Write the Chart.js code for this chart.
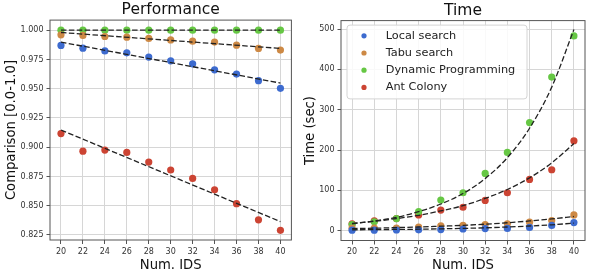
<!DOCTYPE html>
<html>
<head>
<meta charset="utf-8">
<script src="https://cdn.jsdelivr.net/npm/chart.js@4.4.1/dist/chart.umd.min.js"></script>
<style>
  html, body { margin: 0; padding: 0; background: #fff; }
  #wrap { position: relative; width: 589px; height: 273px; }
  canvas { position: absolute; top: 0; }
  #perfChart { left: 0; }
  #timeChart { left: 295px; }
</style>
</head>
<body>
<div id="wrap">
  <canvas id="perfChart" width="295" height="273"></canvas>
  <canvas id="timeChart" width="294" height="273"></canvas>
</div>
<script>
// x values (number of IDS)
const ids = [20, 22, 24, 26, 28, 30, 32, 34, 36, 38, 40];
const names = ['Local search', 'Tabu search', 'Dynamic Programming', 'Ant Colony'];
const colors = ['#3d6bcf', '#cd8945', '#66c744', '#cc4433'];

// Performance (comparison score)
const perfLocal = [0.987, 0.9846, 0.9823, 0.9806, 0.977, 0.9738, 0.9712, 0.9661, 0.9625, 0.9568, 0.9503];
const perfTabu = [0.996, 0.9955, 0.9946, 0.994, 0.9929, 0.9917, 0.9906, 0.9898, 0.9872, 0.9844, 0.983];
const perfDP = [1.0, 1.0, 1.0, 1.0, 1.0, 1.0, 1.0, 1.0, 1.0, 1.0, 1.0];
const perfAnt = [0.9116, 0.8966, 0.8975, 0.8955, 0.8873, 0.8805, 0.8733, 0.8636, 0.8517, 0.8379, 0.829];

// linear trend lines (values at x = 20 and x = 40)
const fitEnds = [20, 40];
const perfLocalFit = [0.9898, 0.9548];
const perfTabuFit = [0.998, 0.9844];
const perfDPFit = [1.0, 1.0];
const perfAntFit = [0.9147, 0.8364];

// Time in seconds
const timeLocal = [1, 1, 1.5, 2, 2.5, 4, 5, 5.5, 8, 13, 20];
const timeTabu = [6, 6, 6.5, 9, 12, 13, 15, 17, 21, 25, 39];
const timeDP = [15, 22, 30, 47, 76, 94, 142, 194, 268, 381, 483];
const timeAnt = [17, 24, 30, 39, 51, 58, 75, 94, 127, 151, 223];

// exponential trend curves read at each x
const timeLocalFit = [2, 2.5, 3, 3.5, 4.5, 5.5, 7, 9, 11.5, 14.5, 18.5];
const timeTabuFit = [5, 6, 7.5, 9, 11, 13, 16, 19.5, 24, 29, 35];
const timeDPFit = [17, 24, 33, 47, 66, 92, 129, 181, 254, 356, 499];
const timeAntFit = [18, 23, 30, 38, 49, 62, 80, 102, 131, 168, 216];

// tick labels
const idTicks = [20, 22, 24, 26, 28, 30, 32, 34, 36, 38, 40];
const perfTicks = [0.825, 0.85, 0.875, 0.9, 0.925, 0.95, 0.975, 1.0];
const timeTicks = [0, 100, 200, 300, 400, 500];

const FONT = 'DejaVu Sans';

function pts(xs, ys) {
  return xs.map((x, i) => ({ x: x, y: ys[i] }));
}

function dotSet(i, ys) {
  return {
    type: 'scatter', label: names[i], data: pts(ids, ys),
    backgroundColor: colors[i], borderWidth: 0, pointRadius: 3.6, pointHoverRadius: 3.6
  };
}

function fitSet(xs, ys) {
  return {
    type: 'line', label: '', isFit: true, data: pts(xs, ys),
    borderColor: '#222', borderWidth: 1.3, borderDash: [5.5, 2.4],
    pointRadius: 0, fill: false, cubicInterpolationMode: 'monotone'
  };
}

// black frame around the plot area
const frame = {
  id: 'frame',
  afterDatasetsDraw(chart) {
    const ctx = chart.ctx, a = chart.chartArea;
    ctx.save();
    ctx.strokeStyle = '#555';
    ctx.lineWidth = 1;
    ctx.strokeRect(a.left, a.top, a.right - a.left, a.bottom - a.top);
    ctx.restore();
  }
};

// matplotlib-like legend inside the plot
const legendBox = {
  id: 'legendBox',
  afterDatasetsDraw(chart, args, opts) {
    if (!opts.show) return;
    const ctx = chart.ctx, a = chart.chartArea;
    const items = chart.data.datasets.filter(d => !d.isFit);
    const rowH = 17.2;
    const x = a.left + 6, y = a.top + 4.5, w = 180, h = items.length * rowH + 5;
    ctx.save();
    ctx.fillStyle = 'rgba(255,255,255,0.85)';
    ctx.strokeStyle = '#d4d4d4';
    ctx.lineWidth = 1;
    ctx.beginPath();
    ctx.roundRect(x, y, w, h, 3);
    ctx.fill();
    ctx.stroke();
    ctx.font = '11.3px "' + FONT + '"';
    ctx.textBaseline = 'middle';
    items.forEach((d, i) => {
      const cy = y + 10.7 + i * rowH;
      ctx.fillStyle = d.backgroundColor;
      ctx.beginPath();
      ctx.arc(x + 17, cy, 2.6, 0, Math.PI * 2);
      ctx.fill();
      ctx.fillStyle = '#222';
      ctx.fillText(d.label, x + 38.7, cy);
    });
    ctx.restore();
  }
};

function xScale(h) {
  return {
    type: 'linear', min: 19, max: 41,
    afterBuildTicks: s => { s.ticks = idTicks.map(v => ({ value: v })); },
    afterFit: s => { s.height = h; },
    grid: { color: '#d6d6d6', lineWidth: 1, tickLength: 4, tickColor: '#555' },
    border: { display: false },
    ticks: { color: '#333', font: { family: FONT, size: 8 }, padding: 3, maxRotation: 0, autoSkip: false },
    title: { display: true, text: 'Num. IDS', color: '#111', font: { family: FONT, size: 13.2 }, padding: { top: 0, bottom: 0 } }
  };
}

function yScale(min, max, tickVals, fmt, w, title, titlePad) {
  return {
    type: 'linear', min: min, max: max,
    afterBuildTicks: s => { s.ticks = tickVals.map(v => ({ value: v })); },
    afterFit: s => { s.width = w; },
    grid: { color: '#d6d6d6', lineWidth: 1, tickLength: 3.5, tickColor: '#555' },
    border: { display: false },
    ticks: { color: '#333', font: { family: FONT, size: 8 }, padding: 3, callback: fmt },
    title: { display: true, text: title, color: '#111', font: { family: FONT, size: 13.2 }, padding: { top: titlePad, bottom: 0 } }
  };
}

function titleOpts(text, padTop) {
  return {
    display: true, text: text, fullSize: false, color: '#111',
    font: { family: FONT, size: 15.5, weight: 'normal' },
    padding: { top: padTop, bottom: 0.5 }
  };
}

new Chart(document.getElementById('perfChart'), {
  type: 'scatter',
  data: {
    datasets: [
      fitSet(fitEnds, perfLocalFit),
      fitSet(fitEnds, perfTabuFit),
      fitSet(fitEnds, perfDPFit),
      fitSet(fitEnds, perfAntFit),
      dotSet(0, perfLocal),
      dotSet(1, perfTabu),
      dotSet(2, perfDP),
      dotSet(3, perfAnt)
    ]
  },
  options: {
    responsive: false,
    animation: false,
    layout: { padding: { left: 0, right: 2, top: 0, bottom: 0 } },
    scales: {
      x: xScale(33),
      y: yScale(0.8207, 1.0086, perfTicks, v => v.toFixed(3), 50, 'Comparison [0.0-1.0]', 3.5)
    },
    plugins: {
      legend: { display: false },
      tooltip: { enabled: false },
      title: titleOpts('Performance', 1),
      legendBox: { show: false }
    }
  },
  plugins: [frame, legendBox]
});

new Chart(document.getElementById('timeChart'), {
  type: 'scatter',
  data: {
    datasets: [
      fitSet(ids, timeLocalFit),
      fitSet(ids, timeTabuFit),
      fitSet(ids, timeDPFit),
      fitSet(ids, timeAntFit),
      dotSet(0, timeLocal),
      dotSet(1, timeTabu),
      dotSet(2, timeDP),
      dotSet(3, timeAnt)
    ]
  },
  options: {
    responsive: false,
    animation: false,
    layout: { padding: { left: 0, right: 4, top: 0, bottom: 0 } },
    scales: {
      x: xScale(32.5),
      y: yScale(-24.5, 521, timeTicks, v => String(v), 46, 'Time (sec)', 8)
    },
    plugins: {
      legend: { display: false },
      tooltip: { enabled: false },
      title: titleOpts('Time', 1.5),
      legendBox: { show: true }
    }
  },
  plugins: [frame, legendBox]
});
</script>
</body>
</html>
